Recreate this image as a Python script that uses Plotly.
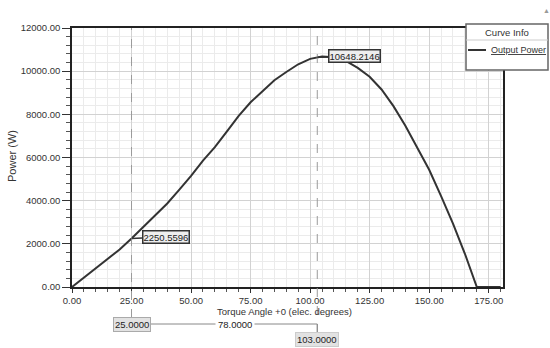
import plotly.graph_objects as go

# Data
angle = [0, 5, 10, 15, 20, 25, 30, 35, 40, 45, 50, 55, 60, 65, 70, 75, 80, 85, 90, 95,
         100, 103, 105, 110, 115, 120, 125, 130, 135, 140, 145, 150, 155, 160, 165, 170, 175, 180]
power = [0, 430, 880, 1290, 1740, 2250.56, 2800, 3340, 3870, 4500, 5150, 5860, 6480, 7200,
         7930, 8560, 9080, 9580, 9960, 10320, 10570, 10648.21, 10680, 10650, 10480, 10150,
         9740, 9150, 8380, 7470, 6430, 5430, 4210, 2940, 1540, 0, 0, 0]

marker_x = [25.0, 103.0]
marker_y = [2250.5596, 10648.2146]
series_name = "Output Power"

FONT = "Liberation Sans, Arial, sans-serif"
FS = 9
L, R, T, B = 72, 47, 28, 61
W, H = 550, 348
PW, PH = W - L - R, H - T - B


def px2paper_x(px):
    return (px - L) / PW


def px2paper_y(py):
    return (H - B - py) / PH


def txt(**kw):
    base = dict(showarrow=False, xanchor="center", yanchor="middle")
    base.update(kw)
    return base


fig = go.Figure()
fig.add_trace(go.Scatter(x=angle, y=power, mode="lines", name=series_name,
                         line=dict(color="#333333", width=2), showlegend=False))

shapes = []
annotations = []

# dashed marker lines
ends = [318, 333]
for mx, ey in zip(marker_x, ends):
    shapes.append(dict(type="line", xref="x", yref="paper", x0=mx, x1=mx,
                       y0=px2paper_y(ey), y1=1, line=dict(color="#9a9a9a", width=1, dash="dash"),
                       layer="above"))

# value callouts
for mx, my, ax in zip(marker_x, marker_y, [34, 37]):
    annotations.append(dict(x=mx, y=my, xref="x", yref="y", text=f"{my:.4f}",
                            showarrow=True, arrowhead=0, arrowwidth=1.5, arrowcolor="#333333",
                            ax=ax, ay=-1, xanchor="center", yanchor="middle",
                            font=dict(family=FONT, size=FS + 0.5, color="#222222"),
                            bgcolor="#eeeeee", bordercolor="#333333", borderwidth=1.5, borderpad=0))

# bottom delta markers
y1p = px2paper_y(324)
shapes.append(dict(type="line", xref="x", yref="paper", x0=marker_x[0], x1=marker_x[1],
                   y0=y1p, y1=y1p, line=dict(color="#888888", width=1)))
shapes.append(dict(type="line", xref="x", yref="paper", x0=marker_x[1], x1=marker_x[1],
                   y0=y1p, y1=px2paper_y(333), line=dict(color="#888888", width=1)))
annotations.append(txt(x=marker_x[0], y=y1p, xref="x", yref="paper", text=f"{marker_x[0]:.4f}",
                       font=dict(family=FONT, size=FS + 0.5, color="#222222"),
                       bgcolor="#e2e2e2", bordercolor="#aaaaaa", borderwidth=1, borderpad=1))
annotations.append(txt(x=marker_x[1], y=px2paper_y(339), xref="x", yref="paper",
                       text=f"{marker_x[1]:.4f}",
                       font=dict(family=FONT, size=FS + 0.5, color="#222222"),
                       bgcolor="#e2e2e2", bordercolor="#cccccc", borderwidth=1, borderpad=1))
annotations.append(txt(x=px2paper_x(235), y=y1p, xref="paper", yref="paper",
                       text=f"{marker_x[1] - marker_x[0]:.4f}",
                       font=dict(family=FONT, size=FS + 0.5, color="#222222"),
                       bgcolor="white", borderpad=2))

# axis titles
annotations.append(txt(x=px2paper_x(284.5), y=px2paper_y(311), xref="paper", yref="paper",
                       text="Torque Angle +0 (elec. degrees)",
                       font=dict(family=FONT, size=FS + 0.5, color="#333333")))
annotations.append(txt(x=px2paper_x(12), y=px2paper_y(156), xref="paper", yref="paper",
                       text="Power (W)", textangle=-90,
                       font=dict(family=FONT, size=11, color="#333333")))

# legend box
lx0, lx1, ly0, ly1 = 466, 548, 24, 70
shapes.append(dict(type="rect", xref="paper", yref="paper", x0=px2paper_x(lx0), x1=px2paper_x(lx1),
                   y0=px2paper_y(ly1), y1=px2paper_y(ly0), fillcolor="white",
                   line=dict(color="#666666", width=1.5), layer="above"))
shapes.append(dict(type="line", xref="paper", yref="paper", x0=px2paper_x(lx0), x1=px2paper_x(lx1),
                   y0=px2paper_y(40), y1=px2paper_y(40), line=dict(color="#cccccc", width=1)))
shapes.append(dict(type="line", xref="paper", yref="paper", x0=px2paper_x(468), x1=px2paper_x(486),
                   y0=px2paper_y(50), y1=px2paper_y(50), line=dict(color="#333333", width=2)))
annotations.append(txt(x=px2paper_x(507), y=px2paper_y(33), xref="paper", yref="paper",
                       text="Curve Info",
                       font=dict(family=FONT, size=FS + 0.5, color="#333333")))
annotations.append(txt(x=px2paper_x(489), y=px2paper_y(50), xref="paper", yref="paper",
                       text=f"<u>{series_name}</u>", xanchor="left",
                       font=dict(family=FONT, size=FS, color="#333333")))
annotations.append(txt(x=px2paper_x(546), y=px2paper_y(11), xref="paper", yref="paper",
                       text="▲",
                       font=dict(family=FONT, size=7, color="#999999")))

fig.update_layout(
    width=W, height=H, margin=dict(l=L, r=R, t=T, b=B),
    paper_bgcolor="white", plot_bgcolor="white",
    font=dict(family=FONT, size=FS, color="#333333"),
    shapes=shapes, annotations=annotations, showlegend=False,
    xaxis=dict(range=[0, 181], tick0=0, dtick=25, tickformat=".2f",
               showgrid=True, gridcolor="#d2d2d2", gridwidth=1,
               showline=True, linecolor="#222222", linewidth=1.5, mirror=True,
               ticks="outside", ticklen=4, tickcolor="#333333",
               minor=dict(dtick=5, showgrid=True, gridcolor="#ebebeb", ticks="outside",
                          ticklen=3, tickcolor="#555555"),
               zeroline=False, tickfont=dict(family=FONT, size=FS + 0.5, color="#333333")),
    yaxis=dict(range=[0, 12000], tick0=0, dtick=2000, tickformat=".2f",
               showgrid=True, gridcolor="#d2d2d2", gridwidth=1,
               showline=True, linecolor="#222222", linewidth=1.5, mirror=True,
               ticks="outside", ticklen=8, tickcolor="#333333",
               minor=dict(dtick=400, showgrid=True, gridcolor="#ebebeb", ticks="outside",
                          ticklen=4, tickcolor="#555555"),
               zeroline=False, tickfont=dict(family=FONT, size=FS + 0.5, color="#333333")),
)

fig.write_html("out.html")
